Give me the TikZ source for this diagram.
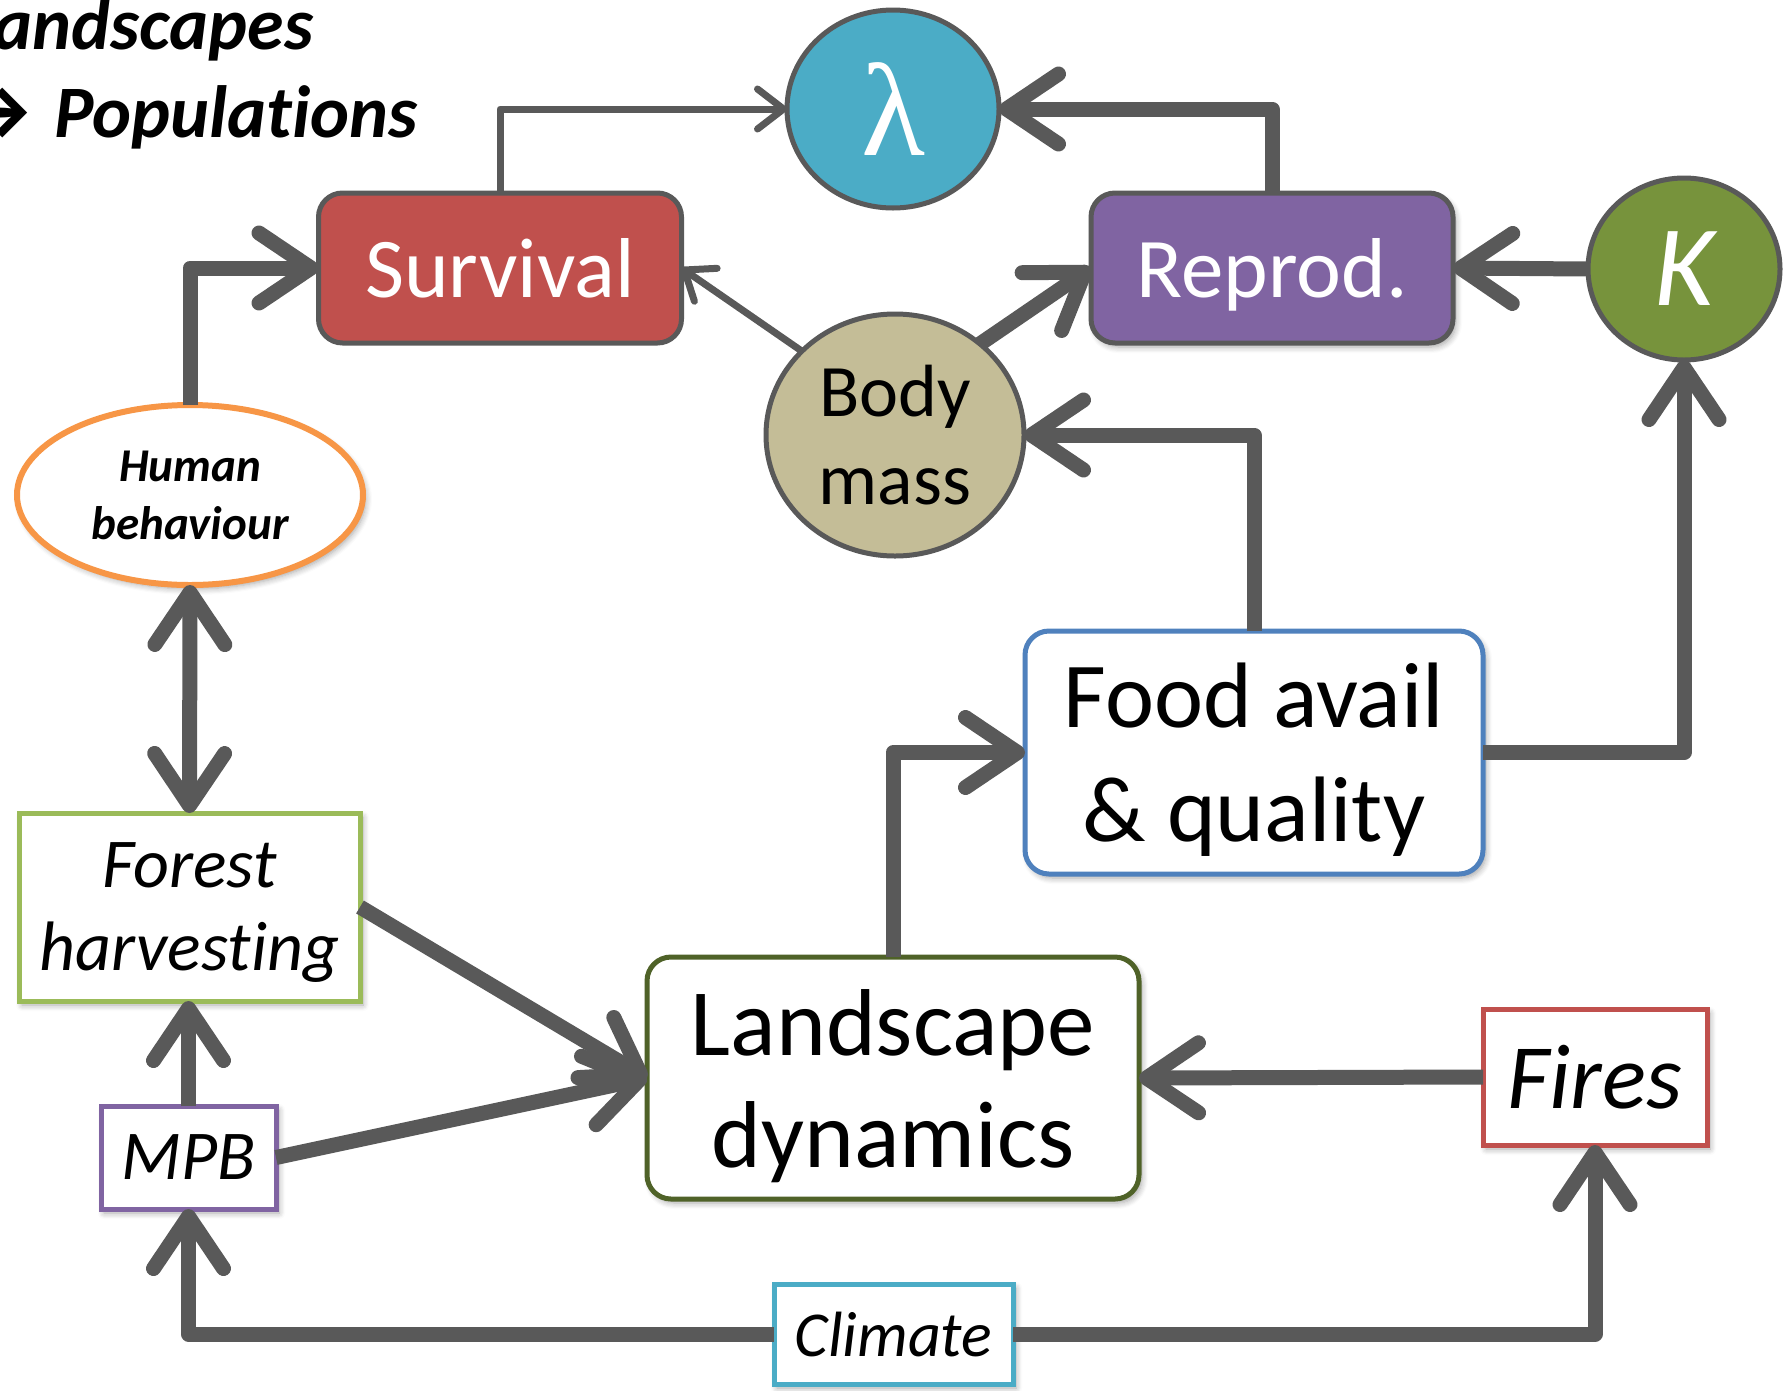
\documentclass[tikz,border=0pt]{standalone}
\usepackage{fontspec}
\setmainfont{Carlito}[Ligatures=NoCommon, RawFeature=-liga, RawFeature=-clig, RawFeature=-dlig, RawFeature=-calt]
\newfontfamily\greekfont{Liberation Serif}
\usetikzlibrary{arrows.meta,shapes.geometric,shadows.blur}

\definecolor{linegray}{HTML}{595959}
\definecolor{survred}{HTML}{C0504D}
\definecolor{lamblue}{HTML}{4BACC6}
\definecolor{reppurple}{HTML}{8064A2}
\definecolor{kgreen}{HTML}{77933C}
\definecolor{bodytan}{HTML}{C4BD97}
\definecolor{humorange}{HTML}{F79646}
\definecolor{forgreen}{HTML}{9BBB59}
\definecolor{landgreen}{HTML}{4F6228}
\definecolor{foodblue}{HTML}{4F81BD}

\newcommand\fsz[2]{\fontsize{#1}{#2}\selectfont}
% keeps "t" and "i" as separate glyphs
\newcommand\nolig{\kern0pt}

\tikzset{
  base/.style={inner sep=0pt, outer sep=0pt, align=center, line width=5pt, text depth=0pt},
  softshadow/.style={blur shadow={shadow xshift=3pt, shadow yshift=-4pt,
      shadow blur radius=6pt, shadow opacity=35, shadow blur steps=6}},
  rbox/.style={base, rectangle, rounded corners=24pt},
  sbox/.style={base, rectangle, softshadow, fill=white},
  oval/.style={base, ellipse, draw=linegray},
  heavy/.style={draw=linegray, line width=15pt, line join=round,
      >={Straight Barb[length=52pt, width=70pt, line width=15pt, round]}},
  light/.style={draw=linegray, line width=7pt, line join=round,
      >={Straight Barb[length=26pt, width=40pt, line width=7pt, round]}},
}

\begin{document}
\begin{tikzpicture}[x=1pt, y=-1pt]
\useasboundingbox (0,0) rectangle (1787,1390);
\clip (0,0) rectangle (1787,1390);

% heading
\node[anchor=base west, inner sep=0pt, font=\bfseries\itshape\fsz{74}{88}] (land0) at (-38,49) {Landscapes};
\node[anchor=base west, inner sep=0pt, font=\bfseries\itshape\fsz{74}{88}] (pop) at (54,137) {Populat\nolig ions};
\node[anchor=base east, inner sep=0pt, font=\bfseries\fsz{90}{90}] (parrow) at (30,140) {→};

% population level
\node[rbox, draw=linegray, fill=survred, text=white, minimum width=363pt, minimum height=150pt,
      font=\fsz{85}{100}] (surv) at (500,268) {Survival};
\node[rbox, draw=linegray, fill=reppurple, text=white, minimum width=362pt, minimum height=150pt,
      font=\fsz{85}{100}, softshadow] (rep) at (1272,268) {Reprod.};
\node[oval, fill=lamblue, text=white, minimum width=212pt, minimum height=198pt,
      font=\greekfont\fsz{132}{132}] (lam) at (893,109) {λ};
\node[oval, fill=kgreen, text=white, minimum width=192pt, minimum height=182pt,
      font=\itshape\fsz{115}{115}] (K) at (1684,269) {K};
\node[oval, fill=bodytan, minimum width=258pt, minimum height=242pt,
      font=\fsz{74}{88}] (body) at (895,435) {Body\\mass};

% drivers
\node[base, ellipse, draw=humorange, fill=white, line width=6pt, softshadow,
      minimum width=346pt, minimum height=180pt,
      font=\bfseries\itshape\fsz{47}{58}] (hum) at (190,495) {Human\\behaviour};
\node[sbox, draw=forgreen, minimum width=341pt, minimum height=188pt,
      font=\itshape\fsz{70}{83}] (forest) at (189.5,907) {Forest\\harvest\nolig ing};
\node[sbox, draw=reppurple, minimum width=175pt, minimum height=103pt,
      font=\itshape\fsz{70}{80}] (mpb) at (188.5,1157.5) {MPB};
\node[rbox, draw=landgreen, fill=white, softshadow, minimum width=492pt, minimum height=242pt,
      font=\fsz{95}{112}] (land) at (893,1078) {Landscape\\dynamics};
\node[rbox, draw=foodblue, fill=white, softshadow, minimum width=458pt, minimum height=243pt,
      font=\fsz{93}{114}] (food) at (1254,752.5) {Food avail\\\& quality};
\node[sbox, draw=survred, minimum width=224pt, minimum height=136pt,
      font=\itshape\fsz{92}{100}] (fires) at (1595,1077) {Fires};
\node[sbox, draw=lamblue, minimum width=239pt, minimum height=100pt,
      font=\itshape\fsz{64}{72}] (clim) at (893.5,1334) {Climate};

% links
\draw[light,->] (surv.north) |- (lam.west);
\draw[heavy,->] (rep.north) |- (lam.east);
\draw[heavy,->] (K.west) -- (rep.east);
\draw[heavy,->] (food.east) -| (K.south);
\draw[heavy,->] (food.north) |- (body.east);
\draw[light,->] (body.138) -- (surv.east);
\draw[heavy,->] (body.47) -- (rep.west);
\draw[heavy,->] (hum.north) |- (surv.west);
\draw[heavy,<->] (hum.south) -- (forest.north);
\draw[heavy,->] (mpb.north) -- (mpb.north |- forest.south);
\draw[heavy,->] (forest.east) -- (land.west);
\draw[heavy,->] (mpb.east) -- (land.west);
\draw[heavy,->] (land.north) |- (food.west);
\draw[heavy,->] (fires.west) -- (land.east);
\draw[heavy,->] (clim.west) -| (mpb.south);
\draw[heavy,->] (clim.east) -| (fires.south);
\end{tikzpicture}
\end{document}
